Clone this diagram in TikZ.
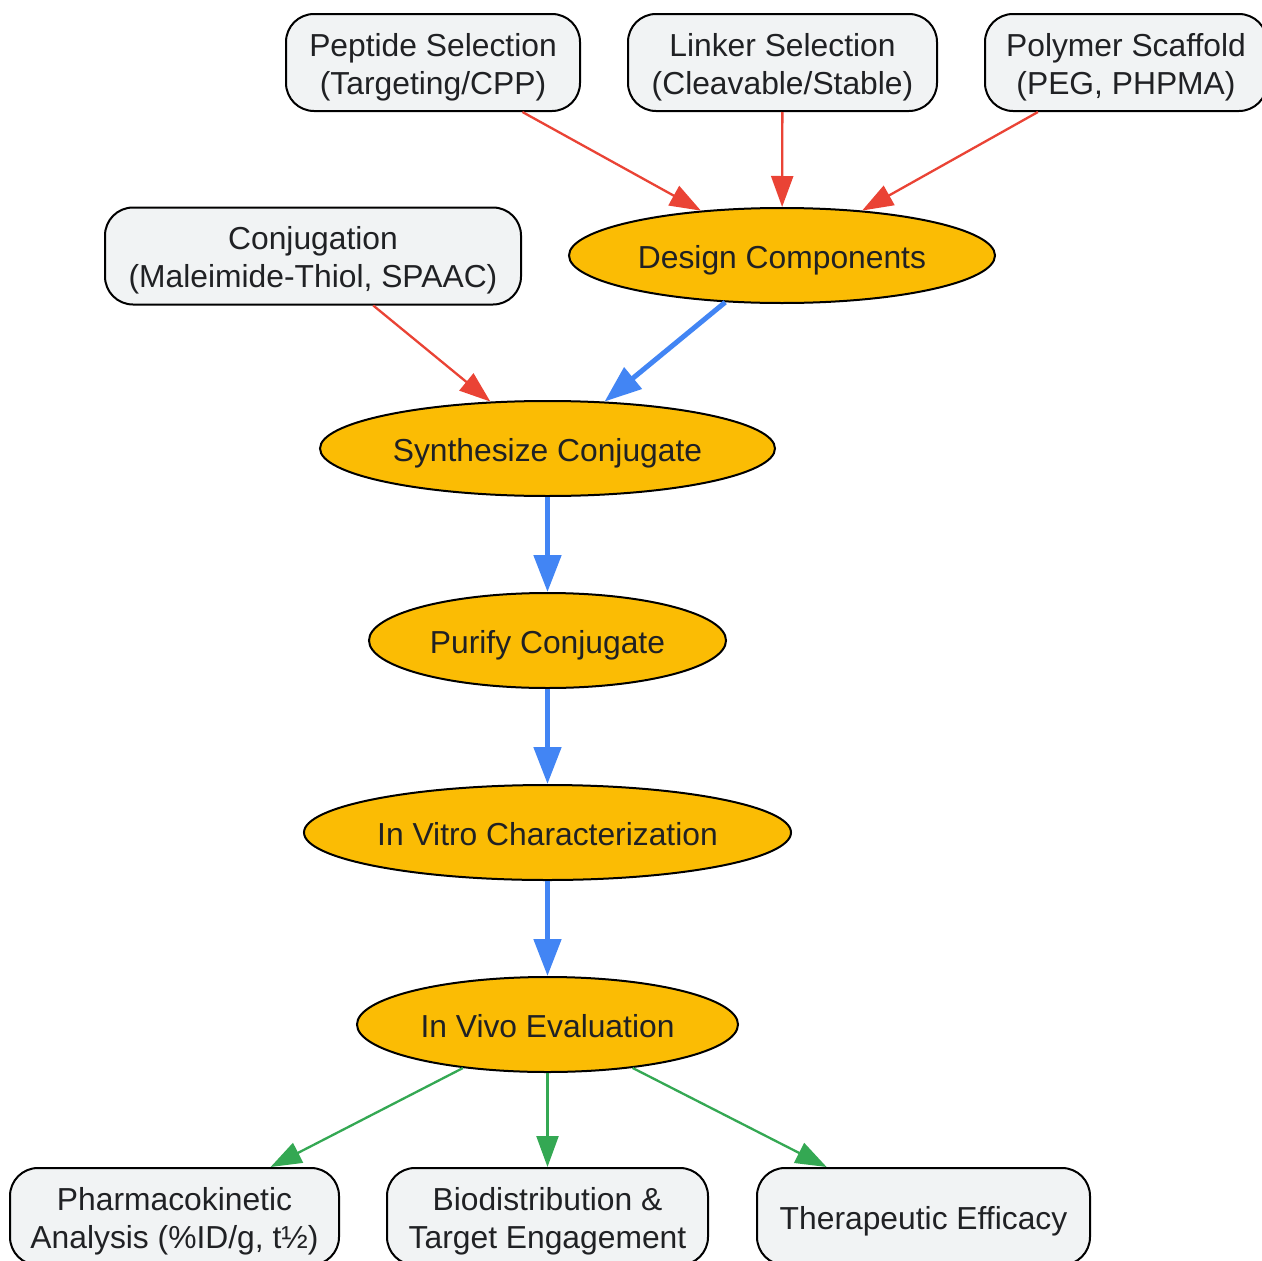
\documentclass[tikz,border=0pt]{standalone}
\usepackage{fontspec}
\setmainfont{Liberation Sans}
\usetikzlibrary{shapes.geometric,arrows.meta}
\definecolor{boxfill}{HTML}{F1F3F4}
\definecolor{stepfill}{HTML}{FBBC04}
\definecolor{redc}{HTML}{EA4335}
\definecolor{bluec}{HTML}{4285F4}
\definecolor{greenc}{HTML}{34A853}
\definecolor{txt}{HTML}{202124}
\begin{document}
\begin{tikzpicture}[x=1pt,y=-1pt,
  every node/.style={font=\fontsize{31.8}{38}\selectfont, text=txt},
  oneline/.style={text height=31pt, text depth=6pt},
  twoline/.style={text height=69pt, text depth=6pt},
  inbox/.style={draw=black, line width=2pt, fill=boxfill, rounded corners=28pt, minimum height=97pt, inner sep=0pt, align=center},
  stepnode/.style={ellipse, draw=black, line width=2pt, fill=stepfill, minimum height=95pt, inner sep=0pt, oneline},
  redarrow/.style={draw=redc, line width=2.3pt, -{Triangle[length=31pt,width=22pt]}},
  bluearrow/.style={draw=bluec, line width=5pt, -{Triangle[length=37pt,width=27pt]}},
  greenarrow/.style={draw=greenc, line width=2.3pt, -{Triangle[length=31pt,width=22pt]}},
]
\useasboundingbox (0,0) rectangle (1262,1261);
\fill[white] (0,0) rectangle (1262,1261);

\node[inbox, twoline, minimum width=294pt] (pep) at (433,62.5) {Peptide Selection\\(Targeting/CPP)};
\node[inbox, twoline, minimum width=309pt] (lnk) at (782.5,62.5) {Linker Selection\\(Cleavable/Stable)};
\node[inbox, twoline, minimum width=282pt] (poly) at (1126,62.5) {Polymer Scaffold\\(PEG, PHPMA)};
\node[inbox, twoline, minimum width=416pt] (conj) at (313,256) {Conjugation\\(Maleimide-Thiol, SPAAC)};

\node[stepnode, minimum width=426pt] (design) at (782,255.5) {Design Components};
\node[stepnode, minimum width=455pt] (synth) at (547.5,448.5) {Synthesize Conjugate};
\node[stepnode, minimum width=357pt] (purify) at (547.5,640.5) {Purify Conjugate};
\node[stepnode, minimum width=487pt] (vitro) at (547.5,832.5) {In Vitro Characterization};
\node[stepnode, minimum width=381pt] (vivo) at (547.5,1024.5) {In Vivo Evaluation};

\node[inbox, twoline, minimum width=329pt] (pk) at (174.5,1216.5) {Pharmacokinetic\\Analysis (\%ID/g, t½)};
\node[inbox, twoline, minimum width=321pt] (bio) at (547.5,1216.5) {Biodistribution \&\\Target Engagement};
\node[inbox, oneline, minimum width=333pt] (ther) at (923.5,1216.5) {Therapeutic Efficacy};

\draw[redarrow] (pep) -- (design);
\draw[redarrow] (lnk) -- (design);
\draw[redarrow] (poly) -- (design);
\draw[redarrow] (conj) -- (synth);
\draw[bluearrow] (design) -- (synth);
\draw[bluearrow] (synth) -- (purify);
\draw[bluearrow] (purify) -- (vitro);
\draw[bluearrow] (vitro) -- (vivo);
\draw[greenarrow] (vivo) -- (pk);
\draw[greenarrow] (vivo) -- (bio);
\draw[greenarrow] (vivo) -- (ther);
\end{tikzpicture}
\end{document}
